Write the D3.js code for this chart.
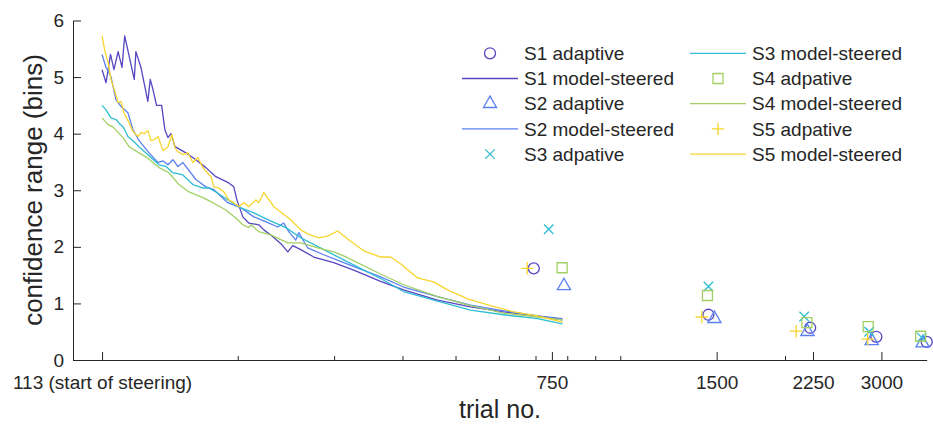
<!DOCTYPE html>
<html>
<head>
<meta charset="utf-8">
<script src="https://cdn.jsdelivr.net/npm/d3@7"></script>
<style>
    body { margin: 0; background: #fff; }
</style>
</head>
<body>
<svg id="chart" width="933" height="425"></svg>
<script>
    // trial no. / confidence range (bins)
    var s1Steered = [[113,5.13],[114.9,4.90],[117.1,5.40],[118.8,5.13],[120.9,5.45],[122.9,5.17],[124.3,5.73],[129.4,4.96],[130.3,5.45],[133.1,5.17],[137.0,4.57],[138.4,4.96],[140.0,4.78],[142.1,4.50],[145.2,4.50],[147.2,4.07],[149.1,3.93],[151.0,4.00],[153.6,3.77],[160.8,3.66],[167.7,3.54],[174.9,3.40],[182.4,3.24],[192.6,3.13],[196.7,3.06],[199.3,2.83],[204.3,2.53],[209.5,2.42],[218.5,2.39],[223.2,2.30],[229.8,2.21],[240.7,2.04],[246.9,1.91],[252.1,2.02],[260.7,1.95],[275.4,1.82],[299.5,1.72],[325.8,1.59],[364.8,1.39],[401.9,1.24],[463.6,1.06],[532.6,0.94],[611.9,0.85],[705.8,0.78],[783.9,0.71]];
    var s2Steered = [[113,5.40],[114.9,5.17],[117.3,5.01],[119.8,4.60],[122.4,4.48],[126.0,4.37],[128.7,4.07],[132.0,3.88],[137.7,3.66],[143.0,3.49],[146.0,3.52],[149.1,3.45],[152.2,3.54],[155.5,3.42],[158.8,3.49],[167.7,3.19],[174.9,3.06],[180.9,3.01],[191.8,2.78],[202.6,2.69],[214.0,2.53],[223.2,2.46],[236.7,2.35],[242.7,2.42],[247.9,2.27],[255.3,2.12],[258.5,2.25],[268.5,1.98],[287.2,1.86],[312.3,1.72],[364.8,1.47],[401.9,1.29],[463.6,1.12],[532.6,0.97],[611.9,0.87],[705.8,0.78],[783.9,0.73]];
    var s3Steered = [[113,4.50],[114.9,4.42],[117.3,4.28],[119.8,4.25],[121.3,4.19],[123.7,4.11],[126.0,3.95],[129.8,3.84],[132.0,3.77],[137.7,3.61],[143.6,3.45],[147.9,3.42],[152.2,3.31],[158.8,3.27],[165.6,3.10],[172.7,3.04],[177.1,3.04],[182.4,2.97],[198.4,2.74],[202.6,2.69],[214.0,2.60],[226.9,2.48],[244.8,2.34],[260.7,2.16],[287.2,1.95],[312.3,1.77],[364.8,1.44],[401.9,1.21],[463.6,1.04],[532.6,0.88],[611.9,0.80],[705.8,0.73],[783.9,0.64]];
    var s4Steered = [[113,4.28],[115.9,4.16],[118.3,4.12],[123.4,3.93],[126.6,3.77],[132.0,3.66],[135.9,3.59],[140.0,3.49],[143.6,3.40],[149.7,3.31],[156.2,3.10],[162.9,2.97],[172.7,2.87],[180.1,2.78],[190.2,2.65],[198.4,2.51],[204.3,2.39],[209.5,2.34],[211.3,2.39],[218.5,2.27],[229.8,2.21],[246.9,2.07],[260.7,2.07],[280.0,1.98],[299.5,1.91],[312.3,1.84],[364.8,1.52],[401.9,1.33],[463.6,1.12],[532.6,0.96],[611.9,0.83],[705.8,0.76],[783.9,0.71]];
    var s5Steered = [[113,5.73],[114.4,5.45],[115.9,5.26],[117.3,4.96],[119.3,4.74],[120.9,4.55],[122.4,4.57],[123.9,4.37],[126.6,4.19],[128.7,4.04],[131.4,3.95],[133.1,4.02],[134.8,4.00],[137.1,4.05],[138.8,3.88],[140.6,3.89],[143.0,3.95],[146.0,3.70],[149.1,3.77],[151.6,3.98],[153.6,3.75],[155.5,3.68],[158.8,3.63],[162.1,3.66],[165.6,3.49],[169.1,3.58],[172.7,3.40],[178.6,3.24],[180.9,3.06],[184.7,3.04],[188.7,2.97],[192.6,2.83],[196.7,2.78],[200.9,2.71],[205.2,2.78],[209.5,2.71],[215.8,2.83],[218.5,2.78],[223.2,2.96],[232.8,2.71],[250.0,2.48],[260.7,2.30],[268.5,2.23],[281.2,2.16],[292.0,2.19],[304.6,2.28],[317.6,2.14],[339.7,1.93],[364.8,1.82],[380.5,1.82],[396.8,1.70],[426.2,1.45],[455.9,1.38],[483.5,1.24],[526.0,1.08],[579.2,0.96],[638.3,0.85],[705.8,0.78],[783.9,0.67]];

    var s1Adaptive = [[695,1.62],[1449,0.80],[2223,0.57],[2937,0.41],[3630,0.32]];
    var s2Adaptive = [[789,1.31],[1486,0.73],[2198,0.50],[2880,0.34],[3568,0.30]];
    var s3Adaptive = [[740,2.31],[1449,1.30],[2168,0.77],[2850,0.50],[3553,0.40]];
    var s4Adaptive = [[783,1.63],[1443,1.14],[2193,0.66],[2838,0.59],[3538,0.42]];
    var s5Adaptive = [[676,1.62],[1409,0.76],[2096,0.51],[2831,0.37]];

    var majorTicks = [113, 750, 1500, 2250, 3000];
    var majorTickLabels = ['113 (start of steering)', '750', '1500', '2250', '3000'];
    var minorTicks = [200, 300, 400, 500, 600, 700, 800, 900, 1000, 2000];
    var yTicks = [0, 1, 2, 3, 4, 5, 6];

    var legendLabels = ['S1 adaptive', 'S1 model-steered', 'S2 adaptive', 'S2 model-steered', 'S3 adpative',
                        'S3 model-steered', 'S4 adpative', 'S4 model-steered', 'S5 adpative', 'S5 model-steered'];

    var steered = [s1Steered, s2Steered, s3Steered, s4Steered, s5Steered];
    var adaptive = [s1Adaptive, s2Adaptive, s3Adaptive, s4Adaptive, s5Adaptive];
    var colors = ['#5546c2', '#5a80f2', '#2ebdd2', '#a2d064', '#f7d52c'];

    var font = '"Liberation Sans", Arial, Helvetica, sans-serif';
    var ink = '#262626';

    // MATLAB style cross and plus markers
    var timesType = {
        draw: function (ctx, size) {
            var r = Math.sqrt(size) / 2;
            ctx.moveTo(-r, -r); ctx.lineTo(r, r);
            ctx.moveTo(-r, r); ctx.lineTo(r, -r);
        }
    };
    var plusType = {
        draw: function (ctx, size) {
            var r = Math.sqrt(size) / 2;
            ctx.moveTo(-r, 0); ctx.lineTo(r, 0);
            ctx.moveTo(0, -r); ctx.lineTo(0, r);
        }
    };
    var symbolTypes = [d3.symbolCircle, d3.symbolTriangle, timesType, d3.symbolSquare, plusType];
    var symbolSizes = [95, 75, 90, 100, 156];

    function marker(i) {
        return d3.symbol().type(symbolTypes[i]).size(symbolSizes[i])();
    }

    var svg = d3.select('#chart');

    var x = d3.scaleLog().domain([100, 3630]).range([73, 926.7]);
    var y = d3.scaleLinear().domain([0, 6]).range([360, 20.5]);

    // minor ticks
    svg.append('g')
        .attr('transform', 'translate(0,360)')
        .call(d3.axisBottom(x).tickValues(minorTicks).tickSize(-4).tickSizeOuter(0).tickFormat(''))
        .call(g => g.select('.domain').remove())
        .selectAll('line').attr('stroke', ink);

    var xAxis = svg.append('g')
        .attr('transform', 'translate(0,360)')
        .call(d3.axisBottom(x).tickValues(majorTicks).tickSize(-8).tickSizeOuter(0).tickPadding(16)
            .tickFormat((d, i) => majorTickLabels[i]));

    var yAxis = svg.append('g')
        .attr('transform', 'translate(73,0)')
        .call(d3.axisLeft(y).tickValues(yTicks).tickSize(-8).tickSizeOuter(0).tickPadding(9)
            .tickFormat(d3.format('d')));

    [xAxis, yAxis].forEach(function (g) {
        g.attr('font-family', font).attr('font-size', 19);
        g.selectAll('line, path').attr('stroke', ink);
        g.selectAll('text').attr('fill', ink);
    });

    svg.append('text')
        .attr('x', 500).attr('y', 418)
        .attr('text-anchor', 'middle')
        .attr('font-family', font).attr('font-size', 25).attr('fill', ink)
        .text('trial no.');

    svg.append('text')
        .attr('transform', 'translate(42,190) rotate(-90)')
        .attr('text-anchor', 'middle')
        .attr('font-family', font).attr('font-size', 26).attr('fill', ink)
        .text('confidence range (bins)');

    var line = d3.line().x(d => x(d[0])).y(d => y(d[1]));

    steered.forEach(function (data, i) {
        svg.append('path')
            .datum(data)
            .attr('d', line)
            .attr('fill', 'none')
            .attr('stroke', colors[i])
            .attr('stroke-width', 1.3)
            .attr('stroke-linejoin', 'round');
    });

    adaptive.forEach(function (data, i) {
        svg.append('g').selectAll('path').data(data).enter().append('path')
            .attr('transform', d => 'translate(' + x(d[0]) + ',' + y(d[1]) + ')')
            .attr('d', marker(i))
            .attr('fill', 'none')
            .attr('stroke', colors[i])
            .attr('stroke-width', 1.3);
    });

    // legend, two columns, no box
    var legend = svg.append('g');
    legendLabels.forEach(function (label, k) {
        var col = Math.floor(k / 5), row = k % 5;
        var subj = Math.floor(k / 2);
        var isLine = k % 2 === 1;
        var x0 = col === 0 ? 462 : 690;
        var cy = 53.3 + row * 25.2;
        if (isLine) {
            legend.append('line')
                .attr('x1', x0).attr('x2', x0 + 56)
                .attr('y1', cy).attr('y2', cy)
                .attr('stroke', colors[subj]).attr('stroke-width', 1.3);
        } else {
            legend.append('path')
                .attr('transform', 'translate(' + (x0 + 28) + ',' + cy + ')')
                .attr('d', marker(subj))
                .attr('fill', 'none')
                .attr('stroke', colors[subj]).attr('stroke-width', 1.3);
        }
        legend.append('text')
            .attr('x', x0 + 62).attr('y', cy).attr('dy', '0.35em')
            .attr('font-family', font).attr('font-size', 19).attr('fill', ink)
            .text(label);
    });
</script>
</body>
</html>
